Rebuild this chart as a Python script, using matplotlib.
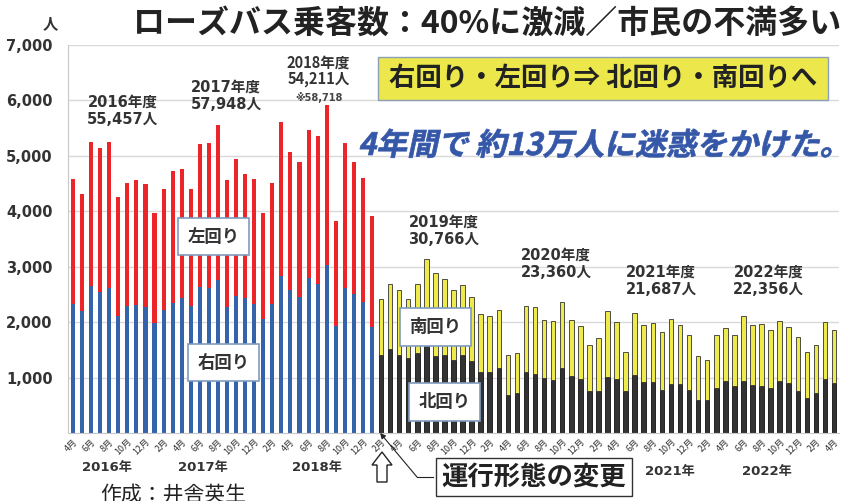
import matplotlib
matplotlib.use("Agg")
import matplotlib.pyplot as plt
from matplotlib.patches import Rectangle, Polygon, PathPatch
from matplotlib.textpath import TextPath
from matplotlib.font_manager import FontProperties
from matplotlib.transforms import Affine2D
from matplotlib.lines import Line2D

plt.rcParams["font.family"] = ["DejaVu Sans", "Noto Sans CJK JP"]

# monthly riders, Apr 2016 - Jan 2019 (right / left loop)
right_loop = [2326, 2193, 2647, 2544, 2622, 2115, 2284, 2302, 2278, 1976, 2218, 2338,
              2429, 2284, 2640, 2622, 2761, 2278, 2465, 2441, 2326, 2054, 2326, 2840,
              2574, 2447, 2798, 2689, 3033, 1927, 2610, 2502, 2356, 1921]
left_loop = [2254, 2115, 2610, 2604, 2635, 2145, 2230, 2266, 2211, 1988, 2187, 2393,
             2332, 2121, 2568, 2605, 2804, 2278, 2484, 2230, 2254, 1910, 2182, 2779,
             2502, 2447, 2676, 2671, 2876, 1892, 2617, 2380, 2248, 1994]

# monthly riders, Feb 2019 - Apr 2023 (north / south loop)
north_loop = [1416, 1512, 1404, 1355, 1452, 1600, 1392, 1404, 1313, 1404, 1295, 1096,
              1108, 1175, 681, 717, 1102, 1072, 988, 952, 1181, 1024, 976, 753,
              765, 1018, 970, 753, 1054, 916, 916, 777, 880, 892, 783, 602,
              596, 813, 934, 849, 934, 873, 855, 819, 940, 910, 765, 633,
              729, 976, 898]
south_loop = [1000, 1181, 1174, 1067, 1241, 1533, 1500, 1367, 1259, 1259, 1151, 1049,
              1000, 1042, 723, 723, 1187, 1199, 1042, 1066, 1180, 1006, 946, 831,
              940, 1175, 1030, 717, 1103, 1024, 1066, 1048, 1168, 1048, 982, 790,
              723, 964, 952, 928, 1180, 1067, 1103, 1042, 1084, 1006, 970, 825,
              855, 1030, 969]

month_labels = ["4月", "6月", "8月", "10月", "12月", "2月"] * 7 + ["4月"]
year_labels = ["2016年", "2017年", "2018年", "2021年", "2022年"]
fiscal_labels = ["2016年度\n55,457人", "2017年度\n57,948人", "2018年度\n54,211人",
                 "2019年度\n30,766人", "2020年度\n23,360人", "2021年度\n21,687人",
                 "2022年度\n22,356人"]

W, H = 842, 501


def fx(px):
    return px / W


def fy(py):
    return 1 - py / H


fig = plt.figure(figsize=(8.42, 5.01), dpi=100)
ax = fig.add_axes([fx(68), fy(433), fx(839) - fx(68), fy(45) - fy(433)])

n_old = len(right_loop)
x_old = list(range(n_old))
x_new = list(range(n_old, n_old + len(north_loop)))

ax.bar(x_old, right_loop, width=0.45, color="#3462AB")
ax.bar(x_old, left_loop, bottom=right_loop, width=0.45, color="#EC2628")
ax.bar(x_new, north_loop, width=0.5, color="#333333", edgecolor="#111111", lw=0.6)
ax.bar(x_new, south_loop, bottom=north_loop, width=0.5, color="#EEEA4C",
       edgecolor="#333333", lw=0.6)

ax.set_xlim(-0.55, n_old + len(north_loop) - 0.45)
ax.set_ylim(0, 7000)
ax.set_yticks(range(1000, 8000, 1000))
ax.set_yticklabels([f"{v:,}" for v in range(1000, 8000, 1000)],
                   fontsize=10.5, fontweight="bold", color="#333333")
ax.set_xticks(range(0, 85, 2))
ax.set_xticklabels(month_labels, rotation=45, ha="right", rotation_mode="anchor",
                   fontsize=6.5, color="#333333", family="Noto Sans CJK JP")
ax.tick_params(axis="y", length=0, pad=11)
ax.tick_params(axis="x", length=0, pad=3)
ax.yaxis.grid(True, color="#d9d9d9", lw=1)
ax.set_axisbelow(True)
for s in ["top", "right"]:
    ax.spines[s].set_visible(False)
for s in ["left", "bottom"]:
    ax.spines[s].set_color("#c8c8c8")

# year labels under the axis
for lab, xpos, ypos in zip(year_labels, [3.7, 14.3, 26.9, 65.9, 76.6],
                           [-0.088, -0.088, -0.088, -0.1, -0.1]):
    ax.text(xpos, ypos, lab, transform=ax.get_xaxis_transform(), ha="center",
            va="center", fontsize=9.5, fontweight="bold", color="#333333")

# fiscal year totals
fy_pos = [(5.5, 6100), (16.9, 6372), (27.1, 6830), (40.9, 3935),
          (53.3, 3339), (64.9, 3032), (76.8, 3032)]
for lab, (xp, yp) in zip(fiscal_labels, fy_pos):
    if lab.startswith("2018"):
        ax.text(xp, yp, lab, ha="center", va="top", fontsize=10.5, fontweight="bold",
                color="#333333", family="Noto Sans CJK JP", linespacing=1.05)
    else:
        ax.text(xp, yp, lab, ha="center", va="top", fontsize=10.5, fontweight="bold",
                color="#333333", linespacing=1.15)
ax.text(27.2, 6060, "※58,718", ha="center", va="center", fontsize=7,
        color="#444444", fontweight="bold")

# route name boxes
box = dict(boxstyle="square,pad=0.55", fc="white", ec="#7f9bbf", lw=1.2)
for lab, xp, yp in [("左回り", 15.5, 3538), ("右回り", 16.6, 1264),
                    ("南回り", 40.0, 1913), ("北回り", 41.0, 560)]:
    ax.text(xp, yp, lab, ha="center", va="center", fontsize=12.5, fontweight="bold",
            color="#333333", family="Noto Sans CJK JP", bbox=box)

# title
fig.text(fx(487), fy(24), "ローズバス乗客数：40%に激減／市民の不満多い", ha="center",
         va="center", fontsize=23, fontweight="bold", color="#222222",
         family="Noto Sans CJK JP")
fig.text(fx(50), fy(24), "人", ha="center", va="center", fontsize=11,
         fontweight="bold", color="#333333")

# yellow box
fig.add_artist(Rectangle((fx(378), fy(100)), fx(828) - fx(378), (100 - 57) / H,
                         transform=fig.transFigure, fc="#ECE84B", ec="#8aa0b8", lw=1))
fig.text(fx(603), fy(79), "右回り・左回り⇒ 北回り・南回りへ", ha="center", va="center",
         fontsize=19, fontweight="bold", color="#222222", family="Noto Sans CJK JP")

# blue slanted message
fp = FontProperties(family="Noto Sans CJK JP", weight="bold")
msg = "4年間で 約13万人に迷惑をかけた。"
tp = TextPath((0, 0), msg, size=30, prop=fp)
scale = 472 / tp.get_extents().width
tr = (Affine2D().scale(scale).skew_deg(12, 0).translate(358, H - 155)
      .scale(1 / W, 1 / H) + fig.transFigure)
fig.add_artist(PathPatch(tp, transform=tr, fc="#3557A8", ec="#3557A8", lw=0.5))

# change of operation callout
fig.text(fx(534), fy(477), "運行形態の変更", ha="center", va="center", fontsize=19,
         fontweight="bold", color="#222222", family="Noto Sans CJK JP",
         bbox=dict(boxstyle="square,pad=0.22", fc="white", ec="#333333", lw=1))
fig.add_artist(Line2D([fx(433), fx(417)], [fy(477), fy(477)], color="#222222", lw=0.8,
                      transform=fig.transFigure))
ax.annotate("", xy=(33.9, 0), xycoords="data", xytext=(fx(417), fy(477)),
            textcoords="figure fraction", annotation_clip=False,
            arrowprops=dict(arrowstyle="-|>", color="#222222", lw=0.8,
                            mutation_scale=8, shrinkA=0, shrinkB=0))
arrow_px = [(382, 452), (392, 465), (387, 465), (387, 482), (377, 482), (377, 465), (372, 465)]
fig.add_artist(Polygon([(fx(a), fy(b)) for a, b in arrow_px], closed=True,
                       transform=fig.transFigure, fc="white", ec="#222222", lw=1))

fig.text(fx(100), fy(484), "作成：井舎英生", ha="left", va="top", fontsize=15,
         color="#222222", family="Noto Sans CJK JP")

fig.savefig("out.png", dpi=100)
